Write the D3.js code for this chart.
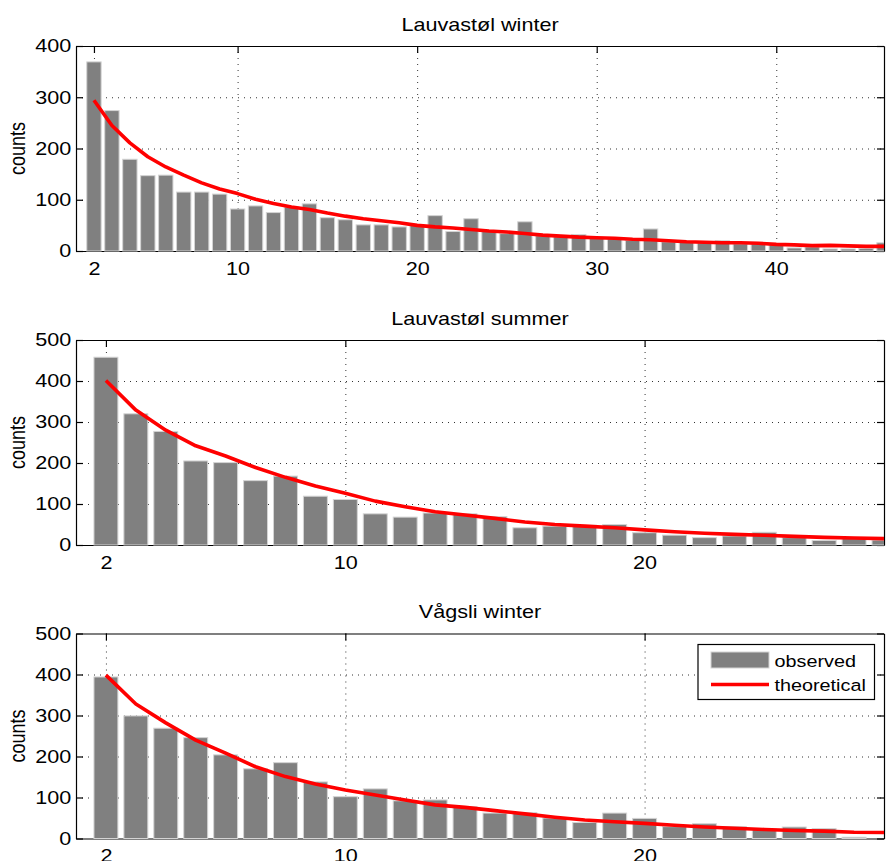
<!DOCTYPE html>
<html>
<head>
<meta charset="utf-8">
<script src="https://cdn.jsdelivr.net/npm/d3@7"></script>
<style>
  body { margin: 0; background: #fff; }
  svg { display: block; }
  text { font-family: "Liberation Sans", Arial, Helvetica, sans-serif; fill: #000; }
</style>
</head>
<body>
<svg id="chart"></svg>
<script>
// gap lengths (bins) start at 2
const titles = ["Lauvastøl winter", "Lauvastøl summer", "Vågsli winter"];

const lauvWinterObs = [369, 274, 179, 147, 148, 115, 115, 111, 82, 88, 75, 86, 92, 65, 61, 51, 51, 47, 50, 69,
  38, 63, 40, 34, 57, 30, 28, 32, 26, 24, 21, 43, 18, 18, 16, 20, 14, 14, 13, 6, 8, 4, 4, 5, 16];
const lauvWinterTheo = [294, 245, 211, 184, 164, 148, 133, 121, 112, 101, 92.5, 86, 81, 74, 68, 63, 59, 55, 50, 47,
  45, 42, 39, 37, 34, 31, 29, 27, 26, 25, 23, 22, 20, 18, 17, 16, 16, 15, 13, 12, 10.5, 11, 10, 9, 9];

const lauvSummerObs = [458, 320, 277, 205, 201, 157, 168, 119, 111, 76, 68, 78, 76, 69, 42, 46, 48, 50, 30, 24,
  18, 22, 31, 18, 11, 16, 12];
const lauvSummerTheo = [401, 329, 280, 242, 217, 189, 165, 144, 126, 107, 93.5, 81, 73, 65, 56, 50, 46, 42, 37, 32.5,
  28.5, 26, 23.6, 21, 18.7, 17, 15.5];

const vagsliWinterObs = [394, 299, 269, 246, 204, 170, 185, 138, 102, 121, 92, 94, 78, 62, 63, 50, 39, 62, 49, 29,
  36, 29, 23, 28, 24, 3, 0];
const vagsliWinterTheo = [398.5, 328, 282, 240, 208, 175, 151, 133, 118.5, 106, 94, 82, 76, 68, 60, 52, 45, 41, 37, 32.5,
  28, 25, 22, 19.5, 18, 15.4, 14.6];

const xDomains = [[1, 46], [1, 28], [1, 28]];
const yDomains = [[0, 400], [0, 500], [0, 500]];
const xTicks = [[2, 10, 20, 30, 40], [2, 10, 20], [2, 10, 20]];
const yTicks = [[0, 100, 200, 300, 400], [0, 100, 200, 300, 400, 500], [0, 100, 200, 300, 400, 500]];

const observed = [lauvWinterObs, lauvSummerObs, vagsliWinterObs];
const theoretical = [lauvWinterTheo, lauvSummerTheo, vagsliWinterTheo];
const legendLabels = ["observed", "theoretical"];

const width = 889, height = 861;
const left = 76, right = 884;
const tops = [46, 340, 633.5];
const ph = 205;
const fs = 18, sx = 1.2;

const svg = d3.select("#chart").attr("width", width).attr("height", height);
svg.append("rect").attr("width", width).attr("height", height).attr("fill", "#fff");

function label(g, txt, x, y, anchor, extra, size) {
  return g.append("text")
    .attr("transform", `translate(${x},${y}) scale(${sx},1)` + (extra || ""))
    .attr("text-anchor", anchor)
    .attr("font-size", size || fs)
    .text(txt);
}

titles.forEach((title, p) => {
  const top = tops[p];
  const w = right - left;
  const x = d3.scaleLinear().domain(xDomains[p]).range([0, w]);
  const y = d3.scaleLinear().domain(yDomains[p]).range([ph, 0]);
  const g = svg.append("g").attr("transform", `translate(${left},${top})`);

  g.append("clipPath").attr("id", "clip" + p)
    .append("rect").attr("width", w).attr("height", ph + 1);

  // dotted grid
  const gx = g.append("g").attr("class", "grid")
    .call(d3.axisBottom(x).tickValues(xTicks[p]).tickSize(ph).tickFormat(""));
  const gy = g.append("g").attr("class", "grid")
    .call(d3.axisLeft(y).tickValues(yTicks[p].slice(1, -1)).tickSize(-w).tickFormat(""));
  [gx, gy].forEach(s => {
    s.select(".domain").remove();
    s.selectAll("line").attr("stroke", "#333").attr("stroke-width", 1).attr("stroke-dasharray", "1,5");
  });

  // frame and inward ticks
  const ax = [
    g.append("g").attr("transform", `translate(0,${ph})`)
      .call(d3.axisBottom(x).tickValues(xTicks[p]).tickSizeInner(-7).tickSizeOuter(0).tickPadding(11)),
    g.append("g")
      .call(d3.axisTop(x).tickValues(xTicks[p]).tickSizeInner(-7).tickSizeOuter(0).tickFormat("")),
    g.append("g")
      .call(d3.axisLeft(y).tickValues(yTicks[p]).tickSizeInner(-7).tickSizeOuter(0).tickPadding(4)),
    g.append("g").attr("transform", `translate(${w},0)`)
      .call(d3.axisRight(y).tickValues(yTicks[p]).tickSizeInner(-7).tickSizeOuter(0).tickFormat(""))
  ];
  ax.forEach(a => {
    a.select(".domain").attr("stroke", "#000").attr("stroke-width", 1.2);
    a.selectAll(".tick line").attr("stroke", "#000").attr("stroke-width", 1.2);
    a.selectAll(".tick text")
      .attr("font-family", "Liberation Sans, Arial, sans-serif")
      .attr("font-size", fs).attr("fill", "#000")
      .attr("transform", `scale(${sx},1)`);
  });

  const plot = g.append("g").attr("clip-path", `url(#clip${p})`);

  const bw = x(1.8) - x(1);
  plot.selectAll("rect.bar").data(observed[p]).join("rect")
    .attr("class", "bar")
    .attr("x", (d, i) => x(i + 2) - bw / 2)
    .attr("width", bw)
    .attr("y", d => y(d))
    .attr("height", d => y(0) - y(d))
    .attr("fill", "#808080")
    .attr("stroke", "#d4d4d4")
    .attr("stroke-width", 1);

  const line = d3.line().x((d, i) => x(i + 2)).y(d => y(d));
  plot.append("path").datum(theoretical[p])
    .attr("fill", "none")
    .attr("stroke", "#ff0000")
    .attr("stroke-width", 3.6)
    .attr("stroke-linejoin", "round")
    .attr("d", line);

  label(g, title, w / 2, -15.5, "middle");
  label(g, "counts", -51.5, ph / 2, "middle", " rotate(-90)");

  if (p === 2) {
    const lg = g.append("g").attr("transform", `translate(${w - 186},11)`);
    lg.append("rect").attr("width", 176.5).attr("height", 55)
      .attr("fill", "#fff").attr("stroke", "#000").attr("stroke-width", 1.2);
    lg.append("rect").attr("x", 13).attr("y", 7.5).attr("width", 58).attr("height", 16)
      .attr("fill", "#808080").attr("stroke", "#d4d4d4");
    lg.append("line").attr("x1", 13).attr("x2", 71).attr("y1", 40).attr("y2", 40)
      .attr("stroke", "#ff0000").attr("stroke-width", 3.6);
    label(lg, legendLabels[0], 76.5, 22, "start", "", 16.5);
    label(lg, legendLabels[1], 76.5, 46.5, "start", "", 16.5);
  }
});
</script>
</body>
</html>
